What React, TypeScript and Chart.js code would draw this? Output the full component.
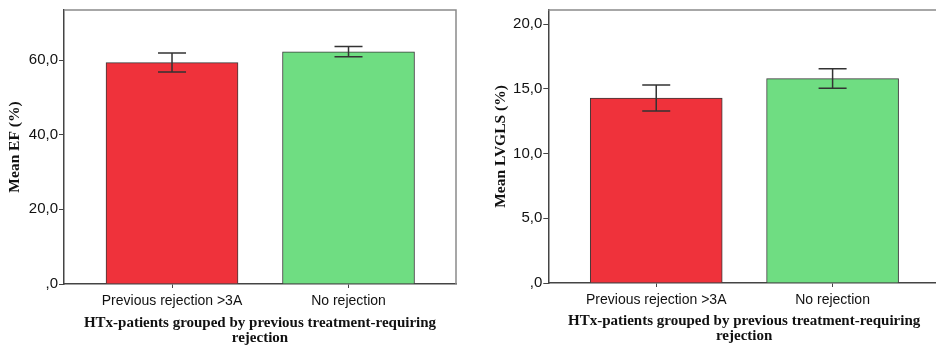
import React, { useEffect, useRef } from "react";
import { Chart, registerables } from "chart.js";

Chart.register(...registerables);

// ---- data ----
const categories = ["Previous rejection >3A", "No rejection"];
const barColors = ["#EF323B", "#6FDD82"];

const efMeans = [59.3, 62.2];
const efLow = [56.8, 60.9];
const efHigh = [61.9, 63.6];
const efTicks = [0, 20, 40, 60];
const efMax = 73.4;

const glsMeans = [14.3, 15.8];
const glsLow = [13.3, 15.05];
const glsHigh = [15.3, 16.55];
const glsTicks = [0, 5, 10, 15, 20];
const glsMax = 21.1;

const xTitle = ["HTx-patients grouped by previous treatment-requiring", "rejection"];

const fmt = (v: number) => (v === 0 ? ",0" : v.toFixed(1).replace(".", ","));

type Spec = {
  means: number[];
  low: number[];
  high: number[];
  ticks: number[];
  max: number;
  yTitle: string;
  yWidth: number;
  yTitlePad: number;
  padTop: number;
  padRight: number;
  xHeight: number;
  xTitlePadBottom: number;
};

const errorBarPlugin = {
  id: "errbars",
  afterDatasetsDraw(chart: any, _args: any, opts: any) {
    const { ctx, scales } = chart;
    const xs = scales.x;
    const ys = scales.y;
    ctx.save();
    ctx.strokeStyle = "#333";
    ctx.lineWidth = 1.5;
    opts.low.forEach((lo: number, i: number) => {
      const hi = opts.high[i];
      const x = xs.getPixelForValue(i);
      const yl = ys.getPixelForValue(lo);
      const yh = ys.getPixelForValue(hi);
      ctx.beginPath();
      ctx.moveTo(x, yl);
      ctx.lineTo(x, yh);
      ctx.moveTo(x - 14, yl);
      ctx.lineTo(x + 14, yl);
      ctx.moveTo(x - 14, yh);
      ctx.lineTo(x + 14, yh);
      ctx.stroke();
    });
    ctx.restore();
  },
};

const framePlugin = {
  id: "frame",
  beforeDatasetsDraw(chart: any) {
    const { ctx, chartArea } = chart;
    ctx.save();
    ctx.strokeStyle = "#8a8a8a";
    ctx.lineWidth = 1.5;
    ctx.beginPath();
    ctx.moveTo(chartArea.left, chartArea.top);
    ctx.lineTo(chartArea.right, chartArea.top);
    ctx.lineTo(chartArea.right, chartArea.bottom);
    ctx.stroke();
    ctx.restore();
  },
};

function BarPanel({ spec, width, left }: { spec: Spec; width: number; left: number }) {
  const ref = useRef<HTMLCanvasElement | null>(null);
  useEffect(() => {
    if (!ref.current) return;
    const chart = new Chart(ref.current, {
      type: "bar",
      data: {
        datasets: [
          {
            data: spec.means.map((m, i) => ({ x: i, y: m })),
            backgroundColor: barColors,
            borderColor: "#3a3a3a",
            borderWidth: 1,
            barThickness: 132,
          } as any,
        ],
      },
      options: {
        animation: false,
        responsive: false,
        devicePixelRatio: 1,
        layout: { padding: { left: 0, top: spec.padTop, right: spec.padRight, bottom: 0 } },
        plugins: {
          legend: { display: false },
          tooltip: { enabled: false },
          errbars: { low: spec.low, high: spec.high },
        } as any,
        scales: {
          x: {
            type: "linear",
            offset: false,
            min: -0.612,
            max: 1.609,
            afterBuildTicks: (s: any) => {
              s.ticks = categories.map((_, i) => ({ value: i }));
            },
            afterFit: (s: any) => {
              s.height = spec.xHeight;
            },
            ticks: {
              callback: (v: any) => categories[Number(v)] ?? "",
              color: "#111",
              padding: 5,
              maxRotation: 0,
              autoSkip: false,
              font: { family: "Liberation Sans", size: 14 },
            },
            grid: { offset: false, drawOnChartArea: false, drawTicks: true, tickLength: 4, color: "#444" },
            border: { display: true, color: "#444", width: 1.5 },
            title: {
              display: true,
              text: xTitle,
              color: "#111",
              font: { family: "Liberation Serif", size: 15, weight: "bold", lineHeight: 1.0 },
              padding: { top: 0, bottom: spec.xTitlePadBottom },
            },
          },
          y: {
            type: "linear",
            min: 0,
            max: spec.max,
            afterBuildTicks: (s: any) => {
              s.ticks = spec.ticks.map((v) => ({ value: v }));
            },
            afterFit: (s: any) => {
              s.width = spec.yWidth;
            },
            ticks: {
              callback: (v: any) => fmt(Number(v)),
              color: "#111",
              padding: 1,
              font: { family: "Liberation Sans", size: 15 },
            },
            grid: { drawOnChartArea: false, drawTicks: true, tickLength: 5, color: "#444" },
            border: { display: true, color: "#444", width: 1.5 },
            title: {
              display: true,
              text: spec.yTitle,
              color: "#111",
              font: { family: "Liberation Serif", size: 15.5, weight: "bold", lineHeight: 1.2 },
              padding: { top: spec.yTitlePad, bottom: 0 },
            },
          },
        },
      } as any,
      plugins: [errorBarPlugin, framePlugin],
    });
    return () => chart.destroy();
  }, []);
  return (
    <canvas
      ref={ref}
      width={width}
      height={347}
      style={{ position: "absolute", left, top: 0, width, height: 347 }}
    />
  );
}

const efSpec: Spec = {
  means: efMeans,
  low: efLow,
  high: efHigh,
  ticks: efTicks,
  max: efMax,
  yTitle: "Mean EF (%)",
  yWidth: 64,
  yTitlePad: 6,
  padTop: 5,
  padRight: 12,
  xHeight: 63,
  xTitlePadBottom: 1.5,
};

const glsSpec: Spec = {
  means: glsMeans,
  low: glsLow,
  high: glsHigh,
  ticks: glsTicks,
  max: glsMax,
  yTitle: "Mean LVGLS (%)",
  yWidth: 80.3,
  yTitlePad: 24,
  padTop: 4,
  padRight: 8,
  xHeight: 64,
  xTitlePadBottom: 3,
};

export default function App() {
  return (
    <div
      style={{
        position: "fixed",
        left: 0,
        top: 0,
        width: 936,
        height: 347,
        overflow: "hidden",
        background: "#fff",
      }}
    >
      <BarPanel spec={efSpec} width={468} left={0} />
      <BarPanel spec={glsSpec} width={480} left={468} />
    </div>
  );
}
